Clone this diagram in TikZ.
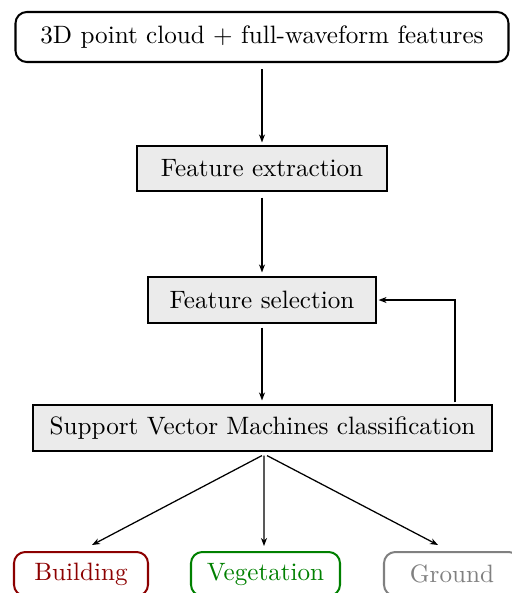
\documentclass[tikz,border=0pt]{standalone}
\usetikzlibrary{arrows.meta}
\definecolor{boxgray}{RGB}{235,235,235}
\definecolor{bred}{RGB}{140,0,0}
\definecolor{vgreen}{RGB}{0,128,0}
\definecolor{ggray}{RGB}{128,128,128}
\begin{document}
\begin{tikzpicture}[x=0.398pt,y=-0.398pt,
  rbox/.style={draw,line width=0.8pt,rounded corners=4.5pt,inner sep=0pt,align=center},
  gbox/.style={draw,fill=boxgray,line width=0.45pt,inner sep=0pt,align=center},
  arr/.style={-{Stealth[length=3.2pt,width=2.4pt]},line width=0.5pt}]
\useasboundingbox (0,0) rectangle (512,593);
\node[rbox,minimum width=493*0.398pt,minimum height=50*0.398pt] (top) at (262,37) {3D point cloud + full-waveform features};
\node[gbox,minimum width=250*0.398pt,minimum height=45*0.398pt] (fe) at (262,168.5) {Feature extraction};
\node[gbox,minimum width=228*0.398pt,minimum height=46*0.398pt] (fs) at (262,300) {Feature selection};
\node[gbox,minimum width=459*0.398pt,minimum height=46*0.398pt] (svm) at (262.5,428) {Support Vector Machines classification};
\node[rbox,draw=bred,text=bred,minimum width=134*0.398pt,minimum height=44*0.398pt] (bld) at (81,574) {Building};
\node[rbox,draw=vgreen,text=vgreen,minimum width=149*0.398pt,minimum height=44*0.398pt] (veg) at (265.5,574) {Vegetation};
\node[rbox,draw=ggray,text=ggray,minimum width=136*0.398pt,minimum height=44*0.398pt] (gnd) at (452,574) {Ground};
\draw[arr] ([yshift=-6*0.398pt]top.south) -- ([yshift=3*0.398pt]fe.north);
\draw[arr] ([yshift=-6*0.398pt]fe.south) -- ([yshift=4*0.398pt]fs.north);
\draw[arr] ([yshift=-4*0.398pt]fs.south) -- ([xshift=-0.5*0.398pt,yshift=4*0.398pt]svm.north);
\draw[arr] ([xshift=192.5*0.398pt,yshift=2*0.398pt]svm.north) |- ([xshift=2*0.398pt]fs.east);
\draw[arr] ([xshift=-0.5*0.398pt,yshift=-4*0.398pt]svm.south) -- ([xshift=11*0.398pt,yshift=6*0.398pt]bld.north);
\draw[arr] ([xshift=1.5*0.398pt,yshift=-4*0.398pt]svm.south) -- ([xshift=-1.5*0.398pt,yshift=5*0.398pt]veg.north);
\draw[arr] ([xshift=4.5*0.398pt,yshift=-4*0.398pt]svm.south) -- ([xshift=-14*0.398pt,yshift=6*0.398pt]gnd.north);
\end{tikzpicture}
\end{document}
